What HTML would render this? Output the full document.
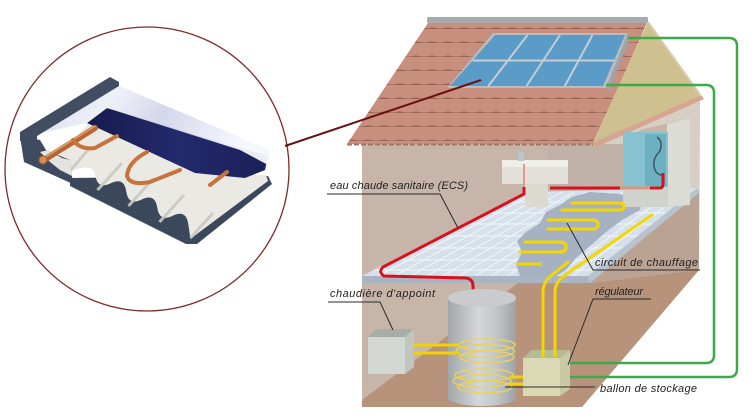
<!DOCTYPE html>
<html><head><meta charset="utf-8"><style>html,body{margin:0;padding:0;background:#fff}svg{display:block}</style></head>
<body>
<svg width="754" height="419" viewBox="0 0 754 419" xmlns="http://www.w3.org/2000/svg">
<defs>
<linearGradient id="glass" x1="0" y1="0" x2="1" y2="0.3">
<stop offset="0" stop-color="#cdd1e6"/><stop offset="0.35" stop-color="#eef0f8"/><stop offset="0.6" stop-color="#d2d5ea"/><stop offset="1" stop-color="#f6f7fc"/>
</linearGradient>
<linearGradient id="navy" x1="0" y1="0" x2="1" y2="0">
<stop offset="0" stop-color="#161b4e"/><stop offset="0.5" stop-color="#232a6c"/><stop offset="1" stop-color="#1a2058"/>
</linearGradient>
<linearGradient id="cyl" x1="0" y1="0" x2="1" y2="0">
<stop offset="0" stop-color="#a2a6aa"/><stop offset="0.45" stop-color="#d5d7d9"/><stop offset="0.7" stop-color="#c4c7ca"/><stop offset="1" stop-color="#9ea2a6"/>
</linearGradient>
<pattern id="tiles" width="16" height="14" patternUnits="userSpaceOnUse" x="0" y="1">
<path d="M0,13 Q8,15.5 16,13" stroke="#93604f" stroke-width="1.3" fill="none"/>
</pattern>
<clipPath id="slabclip"><polygon points="362,276 525,192 697,188 588,276"/></clipPath>
</defs>
<rect width="754" height="419" fill="#fff"/>

<!-- Zoom circle -->
<circle cx="147" cy="169" r="142" fill="none" stroke="#7f2b2b" stroke-width="1.3"/>

<!-- Collector -->
<polygon points="70,178 268,176 272,184 197,244 186,244 70,186" fill="#3b475a"/>
<path d="M66.5,173.7 Q93,160.4 95.25,175.15 T110.75,183.3 T126.25,191.45 T141.75,199.55 T157.25,207.65 T172.75,215.8 T188.25,223.95 T190.5,238.7 L268,181 L266,175 L195,172 L88,124 L55,160 Z" fill="#ebe9e4"/>
<g stroke="#cac8c2" stroke-width="3" fill="none" opacity="0.9">
<path d="M97.5,190 L122,163"/><path d="M128.5,206 L153,179"/><path d="M159.5,222 L184,195"/><path d="M190.5,238 L213,213"/><path d="M68,173 L88,150"/>
</g>
<polygon points="87,123 107,108 268,156 265,170 245,178 195,173" fill="url(#navy)"/>
<polygon points="37,134 110,82 270,150 268,165 240,150 107,108 87,123" fill="url(#glass)" opacity="0.95"/>
<polygon points="20,132 110,77 119,82 119,86 37,136 37,141 20,141" fill="#414d60"/>
<polygon points="20,136 40,140 46,150 70,160 73,184 24,162" fill="#3e4a5d"/>
<polygon points="40,152 48,150 62,158 70,160 72,176 60,170 50,162" fill="#e4e3df"/>
<!-- copper pipes -->
<g fill="none" stroke-linecap="round">
<path d="M44,160 L95,128" stroke="#b9652f" stroke-width="6"/>
<path d="M44,158 L95,126" stroke="#e3a06c" stroke-width="1.5"/>
<path d="M73,140 Q80,150 95,148 L117,136" stroke="#c7733d" stroke-width="4"/>
<path d="M147,152 Q128,162 127,176 Q130,186 150,182 L180,170" stroke="#c7733d" stroke-width="4"/>
<path d="M210,185 L227,172" stroke="#c7733d" stroke-width="4"/>
</g>
<circle cx="43" cy="160" r="4" fill="#d98c55" stroke="#a85a28" stroke-width="1"/>

<!-- House walls -->
<polygon points="362,140 700,96 699,270 582,407 362,407" fill="#c7b5a9"/>
<polygon points="548,144 625,144 625,192 548,192" fill="#c1b2a7"/>
<polygon points="593,144 700,96 699,192 690,192 690,118 640,130 625,144" fill="#d7cfc6"/>
<polygon points="588,283 699,192 699,270" fill="#bba393"/>
<polygon points="362,400 518,283 590,283 699,270 582,407 362,407" fill="#b8937c"/>

<!-- Slab -->
<polygon points="362,276 588,276 590,283 362,283" fill="#a9b5c2"/>
<polygon points="588,276 697,188 700,192 590,283" fill="#b8c3ce"/>
<polygon points="362,276 525,192 697,188 588,276" fill="#d6e0eb"/>
<g clip-path="url(#slabclip)" stroke="#f3f6fa" stroke-width="1">
<line x1="378.1" y1="276" x2="537.3" y2="192"/><line x1="394.3" y1="276" x2="549.6" y2="192"/>
<line x1="410.4" y1="276" x2="561.9" y2="192"/><line x1="426.6" y1="276" x2="574.1" y2="192"/>
<line x1="442.7" y1="276" x2="586.4" y2="192"/><line x1="458.9" y1="276" x2="598.7" y2="192"/>
<line x1="475" y1="276" x2="611" y2="192"/><line x1="491.1" y1="276" x2="623.3" y2="192"/>
<line x1="507.3" y1="276" x2="635.6" y2="192"/><line x1="523.4" y1="276" x2="647.9" y2="192"/>
<line x1="539.6" y1="276" x2="660.1" y2="192"/><line x1="555.7" y1="276" x2="672.4" y2="192"/>
<line x1="571.9" y1="276" x2="684.7" y2="192"/>
<line x1="300" y1="202" x2="720" y2="202"/><line x1="300" y1="213" x2="720" y2="213"/>
<line x1="300" y1="224" x2="720" y2="224"/><line x1="300" y1="236" x2="720" y2="236"/>
<line x1="300" y1="248" x2="720" y2="248"/><line x1="300" y1="260" x2="720" y2="260"/>
<line x1="300" y1="270" x2="720" y2="270"/>
</g>
<!-- heated floor blob -->
<polygon points="572,197 590,192 620,194 642,202 640,210 622,220 606,232 590,246 576,258 566,270 556,276 520,276 516,264 522,252 517,241 526,232 540,223 546,212 560,205" fill="#a6b2c1"/>

<!-- Roof -->
<polygon points="428,23 647,23 593,144 347,144" fill="#c98f7e"/>
<polygon points="428,23 647,23 593,144 347,144" fill="url(#tiles)"/>
<line x1="347" y1="144.5" x2="593" y2="144.5" stroke="#a87366" stroke-width="2" stroke-dasharray="5,2"/>
<polygon points="648,22 701,96 593,142" fill="#cfc18f"/>
<polygon points="593,143 701,95 704,99 596,147" fill="#d6a48f"/>
<line x1="648" y1="22" x2="701" y2="96" stroke="#dccbaa" stroke-width="2"/>
<rect x="427" y="17" width="221" height="6" rx="1.5" fill="#a8aaab"/>

<!-- Solar panel -->
<polygon points="628,33 631,36 609,91 606,88" fill="#9ea3a8"/>
<polygon points="493,33 628,33 606,88 447,88" fill="#b8bdc1"/>
<polygon points="495,35 625,35 603,86 450,86" fill="#5b9bc8"/>
<g stroke="#c6cdd3" stroke-width="2">
<line x1="527.5" y1="35" x2="488.3" y2="86"/><line x1="560" y1="35" x2="526.5" y2="86"/>
<line x1="592.5" y1="35" x2="564.8" y2="86"/><line x1="472.5" y1="60.5" x2="614" y2="60.5"/>
</g>

<!-- Green lines -->
<g fill="none" stroke="#3ea948" stroke-width="2.5">
<path d="M628,38 H729 Q737,38 737,46 V369 Q737,377 729,377 H568"/>
<path d="M606,85 H706 Q714,85 714,93 V355 Q714,363 706,363 H568"/>
</g>

<!-- Connector line -->
<line x1="285" y1="146" x2="481" y2="80" stroke="#6a1212" stroke-width="2"/>

<!-- Heat pump / box -->
<polygon points="667,124 690,118 690,205 667,207" fill="#dcdcd6"/>
<rect x="623" y="186" width="45" height="21" fill="#cfd3cc"/>
<rect x="623" y="132" width="45" height="55" fill="#86c2cf"/>
<rect x="645" y="134" width="21" height="52" fill="#6cb0c1"/>
<path d="M657,137 Q663,141 660,151 Q650,161 656,172 Q660,176 664,175" fill="none" stroke="#3d5560" stroke-width="1.5"/>

<!-- Sink -->
<rect x="502" y="162" width="66" height="22" fill="#e2e0d9"/>
<rect x="502" y="160" width="66" height="7" fill="#efeee9"/>
<rect x="525" y="184" width="23" height="23" fill="#dbd9d0"/>
<rect x="518" y="152" width="6" height="9" fill="#b9c6cc"/>

<!-- Red pipes -->
<line x1="524" y1="164" x2="524" y2="188" stroke="#e39a88" stroke-width="2"/>
<path d="M524,187 V194 L383,267 Q378,272 384,276 L466,278 Q473,279 473,286 V297" fill="none" stroke="#d8121c" stroke-width="3"/>
<line x1="550" y1="188" x2="621" y2="188" stroke="#d8121c" stroke-width="3"/>
<line x1="620" y1="188" x2="651" y2="188" stroke="#e2917f" stroke-width="3"/>
<path d="M650,188 H660 Q663,188 663,184 V173" fill="none" stroke="#d8121c" stroke-width="3"/>

<!-- Yellow floor heating -->
<g fill="none" stroke="#f4d600" stroke-width="3" stroke-linecap="round">
<path d="M572,203 H618 Q624,203 624,206.5 Q624,210 618,210 H562"/>
<path d="M548,220 H592 Q598,220 598,224.5 Q598,229 592,229 H548"/>
<path d="M525,242 H560 Q566,242 566,247 Q566,252 560,252 H520"/>
<path d="M518,264 H540"/>
<path d="M652,215 L565,275 Q555,282 555,292 V352"/>
<path d="M543,352 V292 Q543,282 552,275 L568,262"/>
</g>

<!-- Cylinder -->
<path d="M448,298 V398 A34,8 0 0 0 516,398 V298 Z" fill="url(#cyl)"/>
<ellipse cx="482" cy="298" rx="34" ry="9" fill="#c9cbcd"/>
<g fill="none" stroke="#ebd35a" stroke-width="1.4">
<ellipse cx="487" cy="345" rx="28" ry="6"/><ellipse cx="485" cy="351" rx="29" ry="6.5"/><ellipse cx="487" cy="357" rx="27" ry="6"/>
<ellipse cx="484" cy="375" rx="29" ry="6"/><ellipse cx="482" cy="381" rx="29" ry="6.5"/><ellipse cx="485" cy="387" rx="27" ry="6"/>
</g>
<g stroke="#f2d200" stroke-width="3">
<line x1="410" y1="345" x2="460" y2="345"/><line x1="410" y1="353" x2="460" y2="353"/>
<line x1="510" y1="377" x2="524" y2="377"/><line x1="510" y1="384" x2="524" y2="384"/>
</g>

<!-- Boiler -->
<polygon points="368,337 376,329 414,329 405,337" fill="#a8ada7"/>
<rect x="368" y="337" width="37" height="37" fill="#d3d7d1"/>
<polygon points="405,337 414,329 414,367 405,374" fill="#c1c5bf"/>

<!-- Regulator -->
<polygon points="523,358 532,350 570,350 560,358" fill="#b4bc94"/>
<rect x="523" y="358" width="37" height="38" fill="#dad8b5"/>
<polygon points="560,358 570,350 570,389 560,396" fill="#c9c9a3"/>
<g stroke="#f4d600" stroke-width="3"><line x1="543" y1="350" x2="543" y2="357"/><line x1="555" y1="350" x2="555" y2="357"/></g>

<!-- Leaders -->
<g fill="none" stroke="#2a2a2a" stroke-width="1">
<path d="M327,194 H440 L458,228"/>
<path d="M328,302 H380 L393,330"/>
<path d="M700,270 H593 L567,223"/>
<path d="M651,299 H593 L568,365"/>
<path d="M505,387 H595"/>
</g>

<!-- Labels -->
<g font-family="Liberation Sans, sans-serif" font-style="italic" font-size="11" fill="#222">
<text x="330" y="189" textLength="138" lengthAdjust="spacing">eau chaude sanitaire (ECS)</text>
<text x="330" y="297" textLength="105" lengthAdjust="spacing">chaudière d'appoint</text>
<text x="595" y="266" textLength="103" lengthAdjust="spacing">circuit de chauffage</text>
<text x="595" y="295" textLength="48" lengthAdjust="spacing">régulateur</text>
<text x="600" y="392" textLength="97" lengthAdjust="spacing">ballon de stockage</text>
</g>
</svg>
</body></html>
